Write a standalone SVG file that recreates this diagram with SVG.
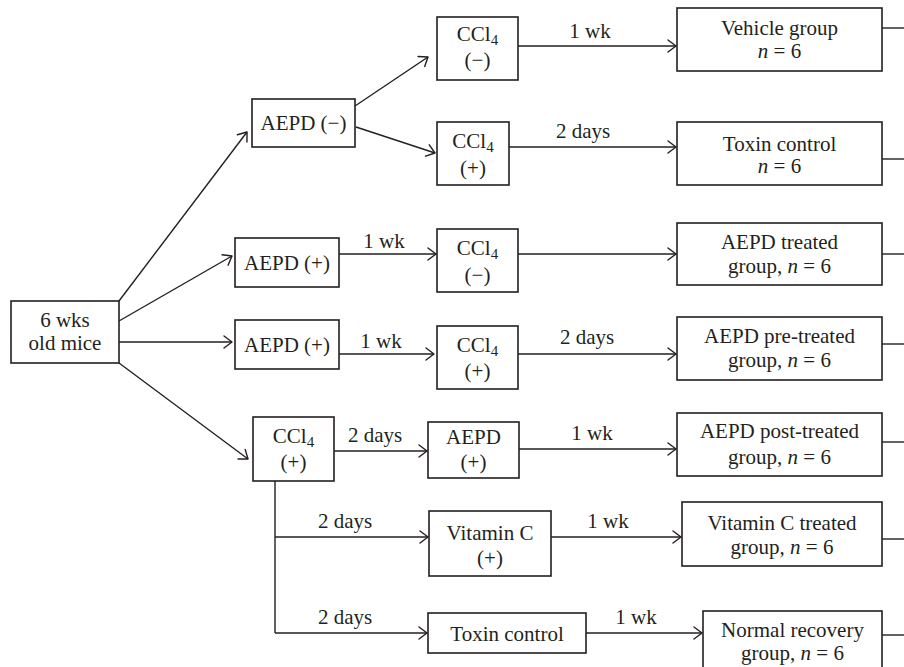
<svg xmlns="http://www.w3.org/2000/svg" width="904" height="667" viewBox="0 0 904 667">
<style>
  .box { fill: #ffffff; stroke: #231f20; stroke-width: 1.6; }
  .t { font-family: "Liberation Serif", "Times New Roman", serif; font-size: 21px; fill: #231f20; text-anchor: middle; }
  .sub { font-size: 15px; }
  .i { font-style: italic; }
  .ln { fill: none; stroke: #231f20; stroke-width: 1.4; }
  .arr { marker-end: url(#ah); }
</style>
<defs>
  <marker id="ah" viewBox="-11 -7 13 14" refX="0" refY="0" markerWidth="13" markerHeight="14" markerUnits="userSpaceOnUse" orient="auto">
    <path d="M-8,-6 L0,0 L-8,6" fill="none" stroke="#231f20" stroke-width="1.4" stroke-linecap="round" stroke-linejoin="round"/>
  </marker>
</defs>
<rect width="904" height="667" fill="#ffffff"/>

<g id="connectors">
  <line class="ln arr" x1="119" y1="301" x2="247" y2="132"/>
  <line class="ln arr" x1="119" y1="321" x2="232" y2="256"/>
  <line class="ln arr" x1="119" y1="342" x2="232" y2="342"/>
  <line class="ln arr" x1="119" y1="363" x2="248" y2="459"/>
  <line class="ln arr" x1="355" y1="106" x2="428" y2="57"/>
  <line class="ln arr" x1="356" y1="127" x2="435" y2="153"/>
  <line class="ln arr" x1="339" y1="254" x2="436" y2="254"/>
  <text class="t" x="384" y="248">1 wk</text>
  <line class="ln arr" x1="339" y1="354" x2="434" y2="354"/>
  <text class="t" x="381" y="348">1 wk</text>
  <line class="ln arr" x1="518" y1="46" x2="676" y2="46"/>
  <text class="t" x="590" y="38">1 wk</text>
  <line class="ln arr" x1="509" y1="147" x2="676" y2="147"/>
  <text class="t" x="583" y="138">2 days</text>
  <line class="ln arr" x1="518" y1="254" x2="676" y2="254"/>
  <line class="ln arr" x1="518" y1="354" x2="676" y2="354"/>
  <text class="t" x="587" y="344">2 days</text>
  <line class="ln arr" x1="334" y1="451" x2="427" y2="451"/>
  <text class="t" x="375" y="442">2 days</text>
  <line class="ln arr" x1="519" y1="449" x2="676" y2="449"/>
  <text class="t" x="592" y="440">1 wk</text>
  <line class="ln" x1="275" y1="481" x2="275" y2="633"/>
  <line class="ln arr" x1="275" y1="537" x2="428" y2="537"/>
  <text class="t" x="345" y="528">2 days</text>
  <line class="ln arr" x1="275" y1="633" x2="427" y2="633"/>
  <text class="t" x="345" y="624">2 days</text>
  <line class="ln arr" x1="551" y1="537" x2="681" y2="537"/>
  <text class="t" x="608" y="528">1 wk</text>
  <line class="ln arr" x1="586" y1="633" x2="702" y2="633"/>
  <text class="t" x="636" y="624">1 wk</text>
  <line class="ln" x1="882" y1="28" x2="904" y2="28"/>
  <line class="ln" x1="882" y1="159" x2="904" y2="159"/>
  <line class="ln" x1="882" y1="254" x2="904" y2="254"/>
  <line class="ln" x1="882" y1="344" x2="904" y2="344"/>
  <line class="ln" x1="882" y1="442" x2="904" y2="442"/>
  <line class="ln" x1="882" y1="539" x2="904" y2="539"/>
  <line class="ln" x1="882" y1="635" x2="904" y2="635"/>
</g>

<g id="mice">
  <rect class="box" x="11" y="301" width="108" height="62"/>
  <text class="t" x="65" y="327">6 wks</text>
  <text class="t" x="65" y="350">old mice</text>
</g>
<g id="aepd-minus">
  <rect class="box" x="252" y="99" width="103" height="48"/>
  <text class="t" x="303.5" y="130">AEPD (−)</text>
</g>
<g id="ccl4-minus-1">
  <rect class="box" x="437" y="17" width="81" height="63"/>
  <text class="t" x="477.5" y="41">CCl<tspan class="sub" dy="4">4</tspan></text>
  <text class="t" x="477.5" y="67">(−)</text>
</g>
<g id="ccl4-plus-2">
  <rect class="box" x="437" y="122" width="72" height="63"/>
  <text class="t" x="473" y="148">CCl<tspan class="sub" dy="4">4</tspan></text>
  <text class="t" x="473" y="175">(+)</text>
</g>
<g id="aepd-plus-3">
  <rect class="box" x="235" y="238" width="104" height="49"/>
  <text class="t" x="287" y="270">AEPD (+)</text>
</g>
<g id="ccl4-minus-3">
  <rect class="box" x="437" y="229" width="81" height="63"/>
  <text class="t" x="477.5" y="255">CCl<tspan class="sub" dy="4">4</tspan></text>
  <text class="t" x="477.5" y="282">(−)</text>
</g>
<g id="aepd-plus-4">
  <rect class="box" x="235" y="320" width="104" height="49"/>
  <text class="t" x="287" y="352">AEPD (+)</text>
</g>
<g id="ccl4-plus-4">
  <rect class="box" x="437" y="326" width="81" height="63"/>
  <text class="t" x="477.5" y="352">CCl<tspan class="sub" dy="4">4</tspan></text>
  <text class="t" x="477.5" y="378">(+)</text>
</g>
<g id="ccl4-plus-5">
  <rect class="box" x="253" y="417" width="81" height="64"/>
  <text class="t" x="293.5" y="443">CCl<tspan class="sub" dy="4">4</tspan></text>
  <text class="t" x="293.5" y="469">(+)</text>
</g>
<g id="aepd-plus-5">
  <rect class="box" x="428" y="422" width="91" height="56"/>
  <text class="t" x="473.5" y="444">AEPD</text>
  <text class="t" x="473.5" y="469">(+)</text>
</g>
<g id="vitamin-c">
  <rect class="box" x="429" y="511" width="122" height="65"/>
  <text class="t" x="490" y="540">Vitamin C</text>
  <text class="t" x="490" y="565">(+)</text>
</g>
<g id="toxin-control-step">
  <rect class="box" x="428" y="613" width="158" height="40"/>
  <text class="t" x="507" y="641">Toxin control</text>
</g>

<g id="vehicle-group">
  <rect class="box" x="677" y="8" width="205" height="63"/>
  <text class="t" x="779.5" y="35">Vehicle group</text>
  <text class="t" x="779.5" y="58"><tspan class="i">n</tspan> = 6</text>
</g>
<g id="toxin-control-group">
  <rect class="box" x="677" y="122" width="205" height="63"/>
  <text class="t" x="779.5" y="151">Toxin control</text>
  <text class="t" x="779.5" y="173"><tspan class="i">n</tspan> = 6</text>
</g>
<g id="aepd-treated">
  <rect class="box" x="677" y="223" width="205" height="62"/>
  <text class="t" x="779.5" y="249">AEPD treated</text>
  <text class="t" x="779.5" y="273">group, <tspan class="i">n</tspan> = 6</text>
</g>
<g id="aepd-pre-treated">
  <rect class="box" x="677" y="317" width="205" height="63"/>
  <text class="t" x="779.5" y="343">AEPD pre-treated</text>
  <text class="t" x="779.5" y="367">group, <tspan class="i">n</tspan> = 6</text>
</g>
<g id="aepd-post-treated">
  <rect class="box" x="677" y="413" width="205" height="63"/>
  <text class="t" x="779.5" y="438">AEPD post-treated</text>
  <text class="t" x="779.5" y="464">group, <tspan class="i">n</tspan> = 6</text>
</g>
<g id="vitamin-c-treated">
  <rect class="box" x="682" y="502" width="200" height="64"/>
  <text class="t" x="782" y="530">Vitamin C treated</text>
  <text class="t" x="782" y="554">group, <tspan class="i">n</tspan> = 6</text>
</g>
<g id="normal-recovery">
  <rect class="box" x="703" y="611" width="179" height="80"/>
  <text class="t" x="792.5" y="637">Normal recovery</text>
  <text class="t" x="792.5" y="660">group, <tspan class="i">n</tspan> = 6</text>
</g>
</svg>
